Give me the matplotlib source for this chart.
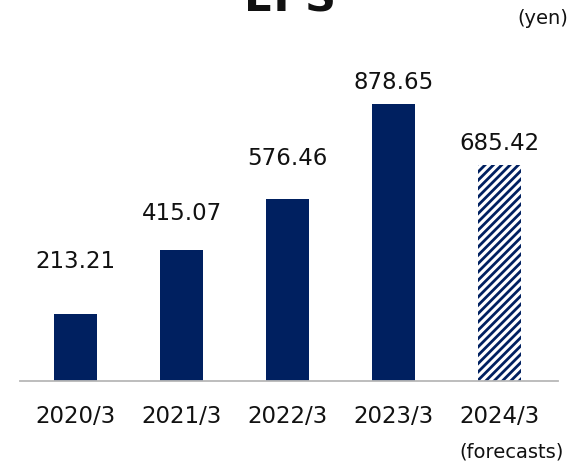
import matplotlib
matplotlib.use("Agg")
import matplotlib.pyplot as plt

categories = ["2020/3", "2021/3", "2022/3", "2023/3", "2024/3"]
values = [213.21, 415.07, 576.46, 878.65, 685.42]
labels = ["213.21", "415.07", "576.46", "878.65", "685.42"]
forecast = [False, False, False, False, True]
label_offsets_pt = [29, 18, 21, 7, 7]

navy = "#002060"
plt.rcParams['font.family'] = ['DejaVu Sans']
plt.rcParams['hatch.linewidth'] = 2.0
plt.rcParams['hatch.color'] = navy

fig = plt.figure(figsize=(5.81, 4.66), dpi=100)
ax = fig.add_axes([20/581, 1-381/466, 538/581, 321/466])

x = list(range(len(categories)))
for xi, v, f in zip(x, values, forecast):
    if f:
        ax.bar(xi, v, width=0.4, facecolor="white", edgecolor=navy, hatch="////", linewidth=0)
    else:
        ax.bar(xi, v, width=0.4, color=navy, linewidth=0)

for xi, v, lab, off in zip(x, values, labels, label_offsets_pt):
    ax.annotate(lab, (xi, v), xytext=(0, off), textcoords="offset points",
                ha="center", va="bottom", fontsize=16.5, color="#111111")

ax.set_xlim(-0.525, 4.55)
ax.set_ylim(0, 1018)
ax.set_xticks(x)
ax.set_xticklabels(categories, fontsize=16.5, color="#111111")
ax.tick_params(axis="x", length=0, pad=17)
ax.set_yticks([])
for s in ["top", "right", "left"]:
    ax.spines[s].set_visible(False)
ax.spines["bottom"].set_color("#b8b8b8")
ax.spines["bottom"].set_linewidth(1.3)

fig.text(290/581, 1-12/466, "EPS", ha="center", va="baseline", fontsize=31, fontweight="bold", color="#111111")
fig.text(568/581, 1-18/466, "(yen)", ha="right", va="center", fontsize=14, color="#111111")
fig.text(564/581, 1-452/466, "(forecasts)", ha="right", va="center", fontsize=14, color="#111111")

fig.savefig("out.png", dpi=100)
